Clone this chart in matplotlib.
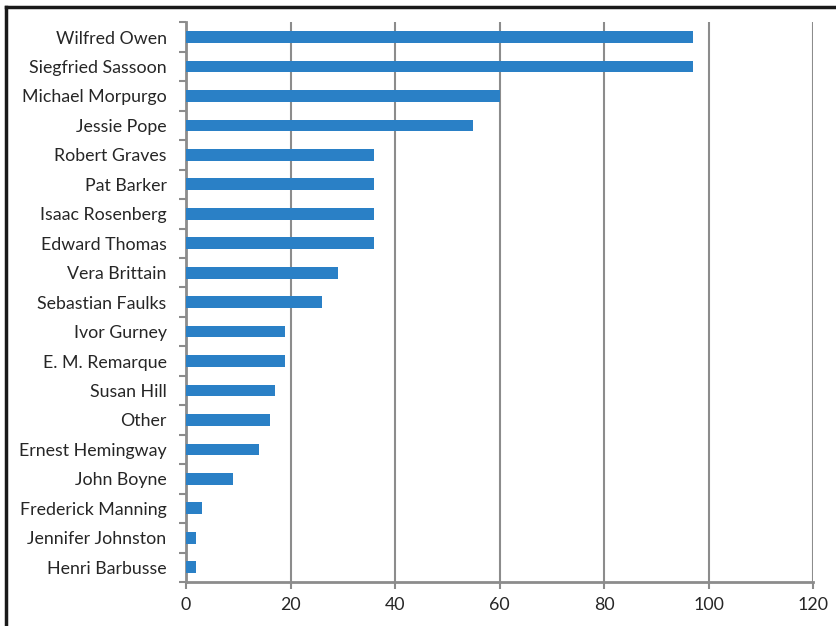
import matplotlib
matplotlib.use("Agg")
import matplotlib.pyplot as plt
from matplotlib.lines import Line2D
import numpy as np

authors = ["Wilfred Owen", "Siegfried Sassoon", "Michael Morpurgo", "Jessie Pope",
           "Robert Graves", "Pat Barker", "Isaac Rosenberg", "Edward Thomas",
           "Vera Brittain", "Sebastian Faulks", "Ivor Gurney", "E. M. Remarque",
           "Susan Hill", "Other", "Ernest Hemingway", "John Boyne",
           "Frederick Manning", "Jennifer Johnston", "Henri Barbusse"]
counts = [97, 97, 60, 55, 36, 36, 36, 36, 29, 26, 19, 19, 17, 16, 14, 9, 3, 2, 2]
xticks = [0, 20, 40, 60, 80, 100, 120]

plt.rcParams['font.family'] = ['Lato', 'DejaVu Sans']

fig = plt.figure(figsize=(8.36, 6.26), dpi=100)
ax = fig.add_axes([186/836, 1 - 582/626, (813-186)/836, (582-22.3)/626])

n = len(authors)
y = np.arange(n)
ax.barh(y, counts, height=0.4, color="#2a80c6", zorder=3)
ax.set_ylim(n - 0.5, -0.5)
ax.set_xlim(0, 120)

gray = "#8c8c8c"
ax.set_xticks(xticks)
ax.set_xticklabels([str(t) for t in xticks])
ax.xaxis.grid(True, color=gray, linewidth=1.5, zorder=0)
ax.set_axisbelow(True)

ax.set_yticks(y)
ax.set_yticklabels(authors)
ax.set_yticks(np.arange(-0.5, n, 1.0), minor=True)
ax.tick_params(axis='y', which='major', length=0, pad=14, labelsize=12.8, labelcolor="#262626")
ax.tick_params(axis='y', which='minor', length=5, width=1.5, color=gray, direction='out')
ax.tick_params(axis='x', which='major', length=5, width=1.5, color=gray, direction='out',
               pad=6, labelsize=12.8, labelcolor="#262626")

for s in ['top', 'right']:
    ax.spines[s].set_visible(False)
for s in ['left', 'bottom']:
    ax.spines[s].set_color(gray)
    ax.spines[s].set_linewidth(2)

# outer frame (top and left only)
fig.add_artist(Line2D([6/836, 1.0], [1 - 7/626, 1 - 7/626], transform=fig.transFigure,
                      color="#1a1a1a", linewidth=2.5))
fig.add_artist(Line2D([6/836, 6/836], [0, 1 - 7/626], transform=fig.transFigure,
                      color="#1a1a1a", linewidth=2.5))

fig.savefig("out.png", dpi=100)
